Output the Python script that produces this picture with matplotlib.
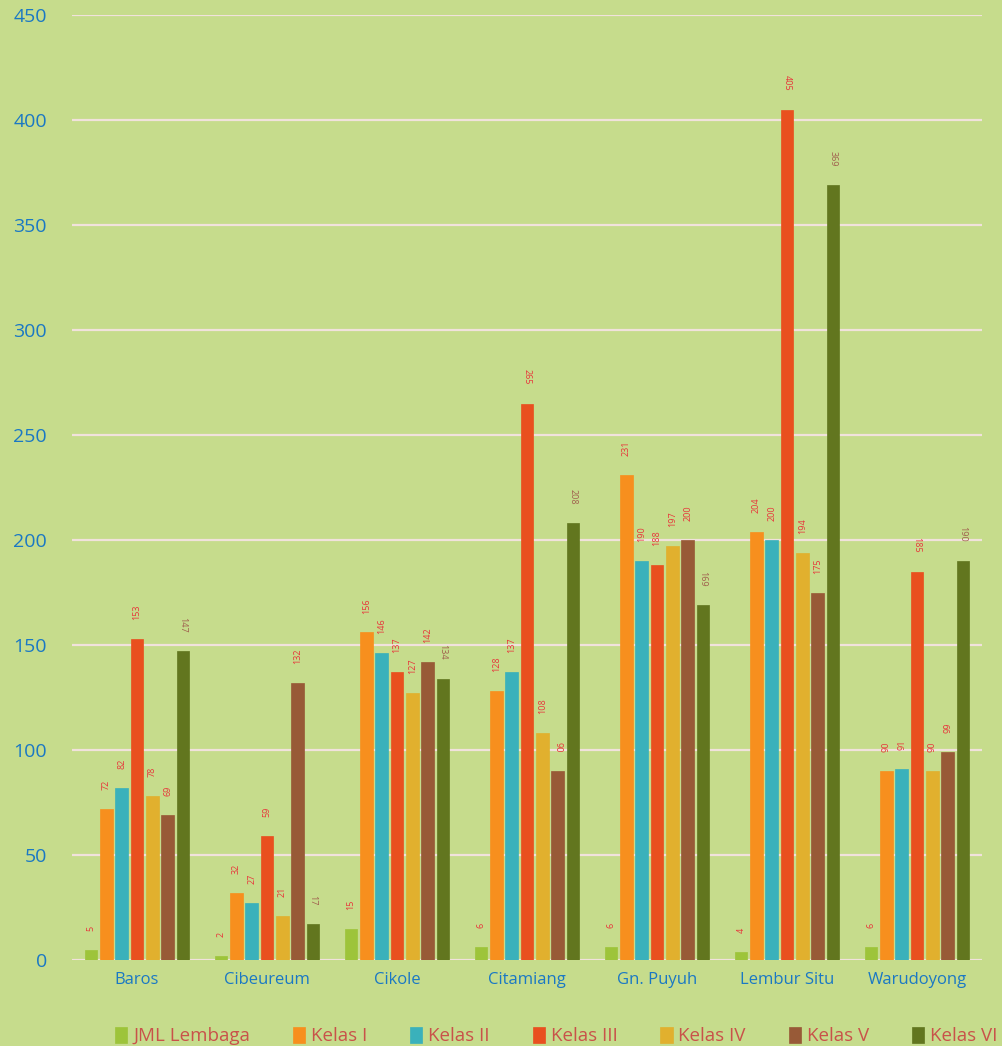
import numpy as np
import matplotlib
matplotlib.use('Agg')
import matplotlib.pyplot as plt

plt.rcParams['font.family'] = ['Open Sans', 'DejaVu Sans']

wilayah = ['Baros', 'Cibeureum', 'Cikole', 'Citamiang', 'Gn. Puyuh', 'Lembur Situ', 'Warudoyong']
seri = ['JML Lembaga', 'Kelas I', 'Kelas II', 'Kelas III', 'Kelas IV', 'Kelas V', 'Kelas VI']

jml_lembaga = [5, 2, 15, 6, 6, 4, 6]
kelas_1 = [72, 32, 156, 128, 231, 204, 90]
kelas_2 = [82, 27, 146, 137, 190, 200, 91]
kelas_3 = [153, 59, 137, 265, 188, 405, 185]
kelas_4 = [78, 21, 127, 108, 197, 194, 90]
kelas_5 = [69, 132, 142, 90, 200, 175, 99]
kelas_6 = [147, 17, 134, 208, 169, 369, 190]

nilai = [jml_lembaga, kelas_1, kelas_2, kelas_3, kelas_4, kelas_5, kelas_6]
warna = ['#9dc43a', '#f78f1e', '#3ab1bb', '#e9501f', '#e1b02e', '#985a37', '#62761f']

# label yang terbalik (dibaca atas ke bawah) pada gambar asli
terbalik = {(0, 6), (1, 6), (2, 6), (3, 3), (3, 5), (3, 6), (4, 6), (5, 3), (5, 6), (6, 3), (6, 6)}

bg = '#c6dc8c'
fig = plt.figure(figsize=(10.03, 10.46), dpi=100, facecolor=bg)
ax = fig.add_axes([72 / 1003, 86 / 1046, 910 / 1003, 945 / 1046])
ax.set_facecolor(bg)

x = np.arange(len(wilayah))
step = 0.118
w = 0.098
for i, (nama, vals, c) in enumerate(zip(seri, nilai, warna)):
    pos = x + (i - 3) * step
    ax.bar(pos, vals, w, color=c, edgecolor=c, linewidth=0.5, label=nama, zorder=3)
    for j, v in enumerate(vals):
        flip = (j, i) in terbalik
        warna_teks = '#a0604e' if i == 6 else '#e8343a'
        ax.text(pos[j], v + 9, str(v), rotation=-90 if flip else 90,
                ha='center', va='bottom', fontsize=6.5, color=warna_teks, zorder=4)

ax.set_ylim(0, 450)
ax.set_xlim(-0.5, len(wilayah) - 0.5)
ax.set_yticks(range(0, 451, 50))
ax.yaxis.grid(True, color='#f1e2dc', linewidth=1.6, zorder=1)
ax.set_axisbelow(True)
for s in ax.spines.values():
    s.set_visible(False)
ax.tick_params(axis='y', length=0, pad=18, labelsize=14, labelcolor='#1a78c4')
ax.tick_params(axis='x', length=0, pad=9, labelsize=12, labelcolor='#1a78c4')
ax.set_xticks(x)
ax.set_xticklabels(wilayah)

leg = ax.legend(loc='upper center', bbox_to_anchor=(0.532, -0.053), ncol=7, frameon=False,
                fontsize=13.5, handlelength=0.65, handleheight=0.9, handletextpad=0.3,
                columnspacing=2.3)
for t in leg.get_texts():
    t.set_color('#c9524a')

fig.savefig('out.png', dpi=100, facecolor=bg)
